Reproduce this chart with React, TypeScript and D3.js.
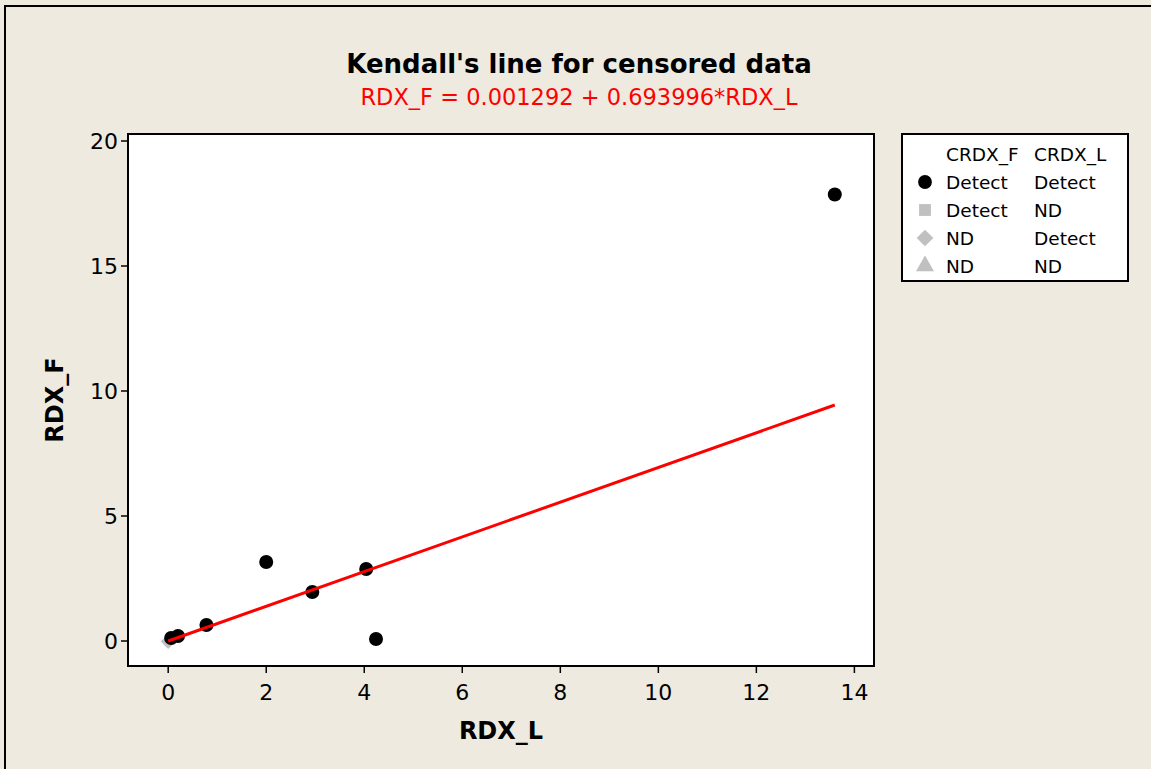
import * as d3 from "d3";
import { useEffect, useRef } from "react";

// RDX_L vs RDX_F, censoring status of each point
const rdxL = [13.6, 2.0, 4.04, 2.94, 4.24, 0.78, 0.2, 0.06, 0.0];
const rdxF = [17.86, 3.16, 2.88, 1.96, 0.08, 0.64, 0.2, 0.12, -0.02];
const status = ["DD", "DD", "DD", "DD", "DD", "DD", "DD", "DD", "ND"];

const intercept = 0.001292;
const slope = 0.693996;

const xTicks = [0, 2, 4, 6, 8, 10, 12, 14];
const yTicks = [0, 5, 10, 15, 20];

const legendRows = [
  { sym: "circle", a: "Detect", b: "Detect" },
  { sym: "square", a: "Detect", b: "ND" },
  { sym: "diamond", a: "ND", b: "Detect" },
  { sym: "triangle", a: "ND", b: "ND" },
];

const W = 1151;
const H = 769;
const font = "DejaVu Sans, Verdana, sans-serif";

export default function App() {
  const ref = useRef<SVGSVGElement>(null);

  useEffect(() => {
    if (!ref.current) return;
    const svg = d3.select(ref.current);
    svg.selectAll("*").remove();

    svg.append("rect").attr("width", W).attr("height", H).attr("fill", "#eeeae0");
    // outer frame (extends past the window)
    svg
      .append("rect")
      .attr("x", 5)
      .attr("y", 6)
      .attr("width", W + 20)
      .attr("height", H + 20)
      .attr("fill", "none")
      .attr("stroke", "#000")
      .attr("stroke-width", 2);

    const left = 128, right = 874, top = 134, bottom = 666;
    const x = d3.scaleLinear().domain([-0.82, 14.4]).range([left, right]);
    const y = d3.scaleLinear().domain([-1, 20.28]).range([bottom, top]);

    svg
      .append("rect")
      .attr("x", left)
      .attr("y", top)
      .attr("width", right - left)
      .attr("height", bottom - top)
      .attr("fill", "#fff")
      .attr("stroke", "#000")
      .attr("stroke-width", 2);

    // ticks
    const g = svg.append("g").attr("font-family", font).attr("font-size", 22);
    xTicks.forEach((t) => {
      g.append("line")
        .attr("x1", x(t)).attr("x2", x(t))
        .attr("y1", bottom).attr("y2", bottom + 7)
        .attr("stroke", "#000").attr("stroke-width", 1.5);
      g.append("text")
        .attr("x", x(t)).attr("y", 700)
        .attr("text-anchor", "middle")
        .text(t);
    });
    yTicks.forEach((t) => {
      g.append("line")
        .attr("x1", left - 7).attr("x2", left)
        .attr("y1", y(t)).attr("y2", y(t))
        .attr("stroke", "#000").attr("stroke-width", 1.5);
      g.append("text")
        .attr("x", left - 10).attr("y", y(t))
        .attr("dy", "0.36em")
        .attr("text-anchor", "end")
        .text(t);
    });

    // titles
    svg.append("text")
      .attr("x", 579).attr("y", 73)
      .attr("text-anchor", "middle")
      .attr("font-family", font).attr("font-weight", "bold").attr("font-size", 26)
      .text("Kendall's line for censored data");
    svg.append("text")
      .attr("x", 579).attr("y", 105)
      .attr("text-anchor", "middle")
      .attr("font-family", font).attr("font-size", 22.5).attr("fill", "#ff0000")
      .text("RDX_F = 0.001292 + 0.693996*RDX_L");
    svg.append("text")
      .attr("x", (left + right) / 2).attr("y", 739)
      .attr("text-anchor", "middle")
      .attr("font-family", font).attr("font-weight", "bold").attr("font-size", 24)
      .text("RDX_L");
    svg.append("text")
      .attr("transform", `translate(63,${(top + bottom) / 2}) rotate(-90)`)
      .attr("text-anchor", "middle")
      .attr("font-family", font).attr("font-weight", "bold").attr("font-size", 24)
      .text("RDX_F");

    // points
    const pts = rdxL.map((v, i) => ({ x: v, y: rdxF[i], s: status[i] }));
    const sym = d3.symbol();
    pts
      .filter((p) => p.s === "ND")
      .forEach((p) => {
        svg.append("path")
          .attr("transform", `translate(${x(p.x)},${y(p.y)}) rotate(45)`)
          .attr("d", sym.type(d3.symbolSquare).size(110)())
          .attr("fill", "#c0c0c0");
      });
    svg.selectAll("circle.pt")
      .data(pts.filter((p) => p.s === "DD"))
      .enter()
      .append("circle")
      .attr("class", "pt")
      .attr("cx", (d) => x(d.x))
      .attr("cy", (d) => y(d.y))
      .attr("r", 7)
      .attr("fill", "#000");

    // Kendall line
    const x0 = d3.min(rdxL)!, x1 = d3.max(rdxL)!;
    svg.append("line")
      .attr("x1", x(x0)).attr("y1", y(intercept + slope * x0))
      .attr("x2", x(x1)).attr("y2", y(intercept + slope * x1))
      .attr("stroke", "#ff0000").attr("stroke-width", 3);

    // legend
    const lg = svg.append("g").attr("font-family", font).attr("font-size", 18.5);
    lg.append("rect")
      .attr("x", 902).attr("y", 134).attr("width", 226).attr("height", 147)
      .attr("fill", "#fff").attr("stroke", "#000").attr("stroke-width", 2);
    lg.append("text").attr("x", 946).attr("y", 161).text("CRDX_F");
    lg.append("text").attr("x", 1034).attr("y", 161).text("CRDX_L");
    legendRows.forEach((r, i) => {
      const cy = 182 + i * 28;
      const types: Record<string, d3.SymbolType> = {
        circle: d3.symbolCircle,
        square: d3.symbolSquare,
        diamond: d3.symbolSquare,
        triangle: d3.symbolTriangle,
      };
      lg.append("path")
        .attr("transform", `translate(925,${cy}) rotate(${r.sym === "diamond" ? 45 : 0})`)
        .attr("d", sym.type(types[r.sym]).size(r.sym === "circle" ? 150 : 140)())
        .attr("fill", r.sym === "circle" ? "#000" : "#c0c0c0");
      lg.append("text").attr("x", 946).attr("y", cy + 7).text(r.a);
      lg.append("text").attr("x", 1034).attr("y", cy + 7).text(r.b);
    });
  }, []);

  return (
    <div style={{ position: "fixed", left: 0, top: 0 }}>
      <svg ref={ref} width={W} height={H} style={{ display: "block" }} />
    </div>
  );
}
